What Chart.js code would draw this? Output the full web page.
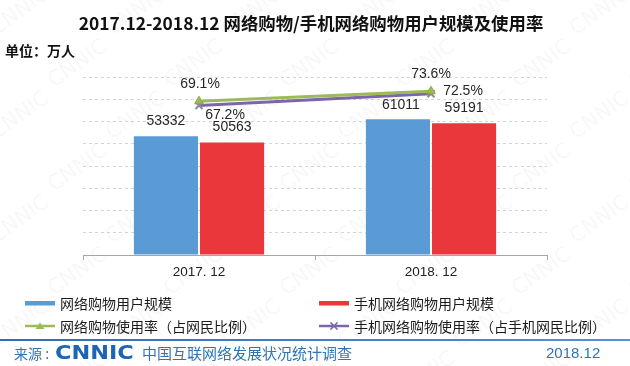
<!DOCTYPE html>
<html>
<head>
<meta charset="utf-8">
<script src="https://cdn.jsdelivr.net/npm/chart.js@4.4.1/dist/chart.umd.min.js"></script>
<style>
  body { margin: 0; background: #fff; }
  #wrap { position: relative; width: 630px; height: 366px; overflow: hidden; font-family: "Noto Sans CJK SC", sans-serif; }
  #myChart { position: absolute; left: 0; top: 0; }
  .chartTitle { position: absolute; left: 0; top: 9px; width: 622px; text-align: center; font-size: 17.4px; font-weight: bold; color: #111; line-height: 28px; }
  .unitLabel { position: absolute; left: 5px; top: 40px; font-size: 14px; font-weight: bold; color: #111; line-height: 20px; }
  .legendBox { position: absolute; left: 24px; top: 292px; display: grid; grid-template-columns: 294px 300px; row-gap: 2px; }
  .legendItem { display: flex; align-items: center; height: 21px; font-size: 14px; color: #1a1a1a; white-space: nowrap; }
  .legendItem svg { margin-right: 4px; }
  .footLine { position: absolute; left: 0; top: 339px; width: 630px; height: 2px; background: linear-gradient(to right, #2f6db5, #5b8fcf); }
  .footer { position: absolute; left: 0; top: 342px; width: 630px; height: 24px; color: #2e75b6; }
  .footSource { position: absolute; left: 14px; top: 1px; font-size: 14px; line-height: 20px; }
  .footLogo { position: absolute; left: 55px; top: -1px; font-family: "DejaVu Sans", sans-serif; font-weight: bold; font-size: 20px; line-height: 22px; color: #1e64b4; transform: scaleX(1.12); transform-origin: left center; }
  .footSurvey { position: absolute; left: 142px; top: 1px; font-size: 15px; line-height: 20px; }
  .footDate { position: absolute; left: 546px; top: 1px; font-size: 15px; line-height: 20px; font-family: "Liberation Sans", sans-serif; }
</style>
</head>
<body>
<div id="wrap">
  <canvas id="myChart" width="630" height="366"></canvas>
  <div class="chartTitle">2017.12-2018.12 网络购物/手机网络购物用户规模及使用率</div>
  <div class="unitLabel">单位：万人</div>
  <div class="legendBox" id="legendBox"></div>
  <div class="footLine"></div>
  <div class="footer">
    <span class="footSource">来源 :</span>
    <span class="footLogo">CNNIC</span>
    <span class="footSurvey">中国互联网络发展状况统计调查</span>
    <span class="footDate">2018.12</span>
  </div>
</div>
<script>
const categories = ["2017. 12", "2018. 12"];
const shoppingUsers = [53332, 61011];
const mobileShoppingUsers = [50563, 59191];
const shoppingRate = [69.1, 73.6];
const mobileShoppingRate = [67.2, 72.5];

const seriesNames = [
  "网络购物用户规模",
  "手机网络购物用户规模",
  "网络购物使用率（占网民比例）",
  "手机网络购物使用率（占手机网民比例）",
];

const blue = "#5b9bd5";
const red = "#e9373b";
const green = "#9bbb59";
const purple = "#7e64a8";

// faint CNNIC watermark behind everything
const watermarkPlugin = {
  id: "watermark",
  beforeDraw: (chart) => {
    const ctx = chart.ctx;
    ctx.save();
    ctx.font = "21px 'DejaVu Sans'";
    ctx.fillStyle = "rgba(0,0,0,0.032)";
    ctx.textAlign = "center";
    ctx.textBaseline = "middle";
    for (let row = 0; row < 8; row++) {
      for (let col = 0; col < 7; col++) {
        const x = col * 116 + (row % 2) * 58 + 20;
        const y = row * 52 + 12;
        ctx.save();
        ctx.translate(x, y);
        ctx.rotate(-0.62);
        ctx.fillText("CNNIC", 0, 0);
        ctx.restore();
      }
    }
    ctx.restore();
  },
};

// value labels next to bars and points
const valueLabelPlugin = {
  id: "valueLabels",
  afterDatasetsDraw: (chart) => {
    const ctx = chart.ctx;
    ctx.save();
    ctx.font = "14px 'Liberation Sans'";
    ctx.fillStyle = "#262626";
    ctx.textAlign = "center";
    ctx.textBaseline = "middle";
    chart.data.datasets.forEach((ds, i) => {
      const meta = chart.getDatasetMeta(i);
      meta.data.forEach((el, j) => {
        const off = ds.labelOffsets[j];
        const text = ds.yAxisID === "y1" ? `${ds.data[j]}%` : `${ds.data[j]}`;
        ctx.fillText(text, el.x + off[0], el.y + off[1]);
      });
    });
    ctx.restore();
  },
};

const data = {
  labels: categories,
  datasets: [
    {
      type: "bar",
      label: seriesNames[0],
      data: shoppingUsers,
      backgroundColor: blue,
      yAxisID: "y",
      order: 3,
      labelOffsets: [[0, -15], [3, -14]],
    },
    {
      type: "bar",
      label: seriesNames[1],
      data: mobileShoppingUsers,
      backgroundColor: red,
      yAxisID: "y",
      order: 3,
      labelOffsets: [[0, -15], [0, -15]],
    },
    {
      type: "line",
      label: seriesNames[2],
      data: shoppingRate,
      borderColor: green,
      backgroundColor: green,
      borderWidth: 3,
      pointStyle: "triangle",
      pointRadius: 5,
      pointBorderWidth: 1,
      pointBorderColor: "#8aa64a",
      yAxisID: "y1",
      order: 1,
      labelOffsets: [[1, -17], [0, -17]],
    },
    {
      type: "line",
      label: seriesNames[3],
      data: mobileShoppingRate,
      borderColor: purple,
      backgroundColor: purple,
      borderWidth: 3,
      pointStyle: "crossRot",
      pointRadius: 5,
      pointBorderWidth: 2,
      pointBorderColor: "#8a86a8",
      yAxisID: "y1",
      order: 2,
      labelOffsets: [[26, 10], [32, -3]],
    },
  ],
};

const config = {
  data: data,
  options: {
    responsive: false,
    animation: false,
    events: [],
    layout: { padding: { left: 83, right: 83, top: 77, bottom: 0 } },
    datasets: {
      bar: { categoryPercentage: 0.57, barPercentage: 0.97 },
    },
    plugins: {
      legend: { display: false },
      tooltip: { enabled: false },
    },
    scales: {
      x: {
        grid: { offset: true, drawOnChartArea: false, tickLength: 5, color: "#a6a6a6" },
        border: { color: "#a6a6a6" },
        ticks: { font: { family: "Liberation Sans", size: 13.5 }, color: "#222", padding: 4 },
        // keep the axis line at y=255 and the rest of the canvas for legend/footer
        afterFit: (scale) => {
          scale.height = 111;
        },
      },
      y: {
        min: 0,
        max: 80000,
        ticks: { display: false, stepSize: 10000 },
        grid: { color: "#d4d4d4", drawTicks: false },
        border: { display: false, dash: [3, 3] },
      },
      y1: {
        position: "right",
        min: 0,
        max: 80,
        display: false,
      },
    },
  },
  plugins: [watermarkPlugin, valueLabelPlugin],
};

const markerSvg = (ds) => {
  if (ds.type === "bar") {
    return `<svg width="32" height="8"><rect x="1" y="2" width="30" height="4.5" fill="${ds.backgroundColor}"/></svg>`;
  }
  let marker = "";
  if (ds.pointStyle === "triangle") {
    marker = `<polygon points="16,0.5 20.5,7 11.5,7" fill="${ds.backgroundColor}"/>`;
  } else {
    marker = `<path d="M12.5,0.5 L19.5,7.5 M19.5,0.5 L12.5,7.5" stroke="${ds.borderColor}" stroke-width="1.6"/>`;
  }
  return `<svg width="32" height="8"><line x1="1" y1="4" x2="31" y2="4" stroke="${ds.borderColor}" stroke-width="2.5"/>${marker}</svg>`;
};

const buildLegend = (datasets) => {
  const box = document.getElementById("legendBox");
  datasets.forEach((ds) => {
    const item = document.createElement("div");
    item.className = "legendItem";
    item.innerHTML = markerSvg(ds) + `<span>${ds.label}</span>`;
    box.appendChild(item);
  });
};

const myChart = new Chart(document.getElementById("myChart"), config);
buildLegend(data.datasets);
</script>
</body>
</html>
